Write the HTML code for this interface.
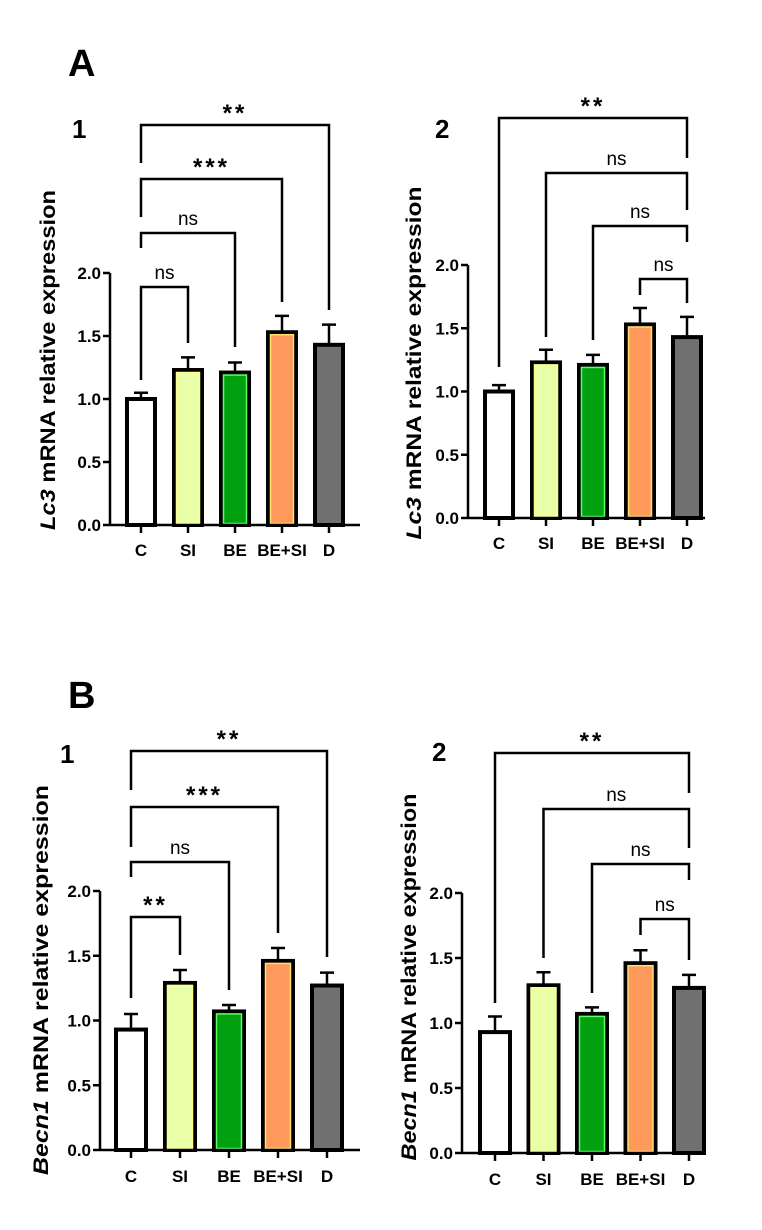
<!DOCTYPE html>
<html><head><meta charset="utf-8">
<style>
html,body{margin:0;padding:0;background:#fff;}
svg{display:block;font-family:"Liberation Sans",Arial,sans-serif;}
</style></head>
<body>
<svg id="fig" width="762" height="1230" viewBox="0 0 762 1230">
<text x="68" y="76" font-size="38" font-weight="bold">A</text>
<text x="68" y="708" font-size="38" font-weight="bold">B</text>
</svg>
<script>
const categories = ["C","SI","BE","BE+SI","D"];
const yTicks = [0, 0.5, 1.0, 1.5, 2.0];
const yTickLabels = ["0.0","0.5","1.0","1.5","2.0"];
const lc3Means = [1.00, 1.23, 1.21, 1.53, 1.43];
const lc3Errors = [0.05, 0.10, 0.08, 0.13, 0.16];
const becn1Means = [0.93, 1.29, 1.07, 1.46, 1.27];
const becn1Errors = [0.12, 0.10, 0.05, 0.10, 0.10];
const sigA1 = ["**","***","ns","ns"];
const sigB1 = ["**","***","ns","**"];
const sigAll2 = ["**","ns","ns","ns"];
const fills = ["#ffffff","#e8ffa8","#00a010","#ff9a5c","#707070"];
const inner = [null,"#ffff90","#60ff60","#ffe070",null];

const NS = "http://www.w3.org/2000/svg";
const svg = document.getElementById('fig');
function el(tag, attrs, parent){
  const e = document.createElementNS(NS, tag);
  for (const k in attrs) e.setAttribute(k, attrs[k]);
  (parent||svg).appendChild(e);
  return e;
}

const panels = [
  {id:'a1', ax:110, y0:525, y2:273, x0:141, dx:47, bw:28, xEnd:360, means:lc3Means, errs:lc3Errors, sig:sigA1,
   title:'Lc3', tx:47, ty:360, tl:340, num:'1', nx:72, ny:138, lblY:556,
   br:[{y:125,l:163,r:310,a:0,b:4},{y:179,l:217,r:302,a:0,b:3},{y:233,l:248,r:347,a:0,b:2},{y:287,l:380,r:343,a:0,b:1}]},
  {id:'a2', ax:468, y0:518, y2:265, x0:499, dx:47, bw:28, xEnd:705, means:lc3Means, errs:lc3Errors, sig:sigAll2,
   title:'Lc3', tx:413, ty:363, tl:353, num:'2', nx:435, ny:138, lblY:549,
   br:[{y:118,l:367,r:158,a:0,b:4},{y:173,l:337,r:210,a:1,b:4},{y:226,l:340,r:242,a:2,b:4},{y:279,l:295,r:303,a:3,b:4}]},
  {id:'b1', ax:100, y0:1150, y2:891, x0:131, dx:49, bw:30, xEnd:360, means:becn1Means, errs:becn1Errors, sig:sigB1,
   title:'Becn1', tx:40, ty:980, tl:390, num:'1', nx:60, ny:763, lblY:1182,
   br:[{y:751,l:790,r:957,a:0,b:4},{y:807,l:847,r:933,a:0,b:3},{y:862,l:877,r:990,a:0,b:2},{y:917,l:998,r:955,a:0,b:1}]},
  {id:'b2', ax:462, y0:1153, y2:893, x0:495, dx:48.5, bw:30, xEnd:705, means:becn1Means, errs:becn1Errors, sig:sigAll2,
   title:'Becn1', tx:408, ty:977, tl:367, num:'2', nx:432, ny:761, lblY:1185,
   br:[{y:753,l:1003,r:793,a:0,b:4},{y:809,l:958,r:848,a:1,b:4},{y:864,l:993,r:880,a:2,b:4},{y:919,l:935,r:960,a:3,b:4}]}
];

panels.forEach(p => {
  const g = el('g', {});
  
  
  const yS = v => p.y0 - (p.y0 - p.y2) * v / 2.0;
  const xS = i => p.x0 + p.dx * i;

  const n = el('text', {x:p.nx, y:p.ny, 'font-size':26, 'font-weight':'bold'}, g);
  n.textContent = p.num;
  
  

  const t = el('text', {x:0, y:0, 'font-size':21, 'font-weight':'bold', 'text-anchor':'middle',
    transform:`translate(${p.tx+8},${p.ty}) rotate(-90)`, textLength:p.tl, lengthAdjust:'spacingAndGlyphs'}, g);
  const ti = el('tspan', {'font-style':'italic'}, t); ti.textContent = p.title;
  const tr = el('tspan', {}, t); tr.textContent = ' mRNA relative expression';
  
  

  categories.forEach((c, i) => {
    const x = xS(i), top = yS(p.means[i]), et = yS(p.means[i] + p.errs[i]);
    const eb = el('path', {d:`M${x},${top} V${et} M${x-7},${et} H${x+7}`, stroke:'#000', 'stroke-width':2.5, fill:'none'}, g);
    
    
    const r = el('rect', {x:x-p.bw/2, y:top, width:p.bw, height:p.y0-top, fill:fills[i], stroke:'#000', 'stroke-width':4}, g);
    
    
    if (inner[i]) {
      const ir = el('rect', {x:x-p.bw/2+2.5, y:top+2.5, width:p.bw-5, height:Math.max(0,p.y0-top-4), fill:'none', stroke:inner[i], 'stroke-width':1.5}, g);
      
      
    }
    const tk = el('line', {x1:x, x2:x, y1:p.y0, y2:p.y0+8, stroke:'#000', 'stroke-width':2.5}, g);
    
    
    const lb = el('text', {x:x, y:p.lblY, 'font-size':17, 'font-weight':'bold', 'text-anchor':'middle'}, g);
    lb.textContent = c;
    
    
  });

  const ya = el('line', {x1:p.ax, x2:p.ax, y1:p.y2, y2:p.y0, stroke:'#000', 'stroke-width':2.5}, g);
  
  
  const xa = el('line', {x1:p.ax, x2:p.xEnd, y1:p.y0, y2:p.y0, stroke:'#000', 'stroke-width':2.5}, g);
  
  
  yTicks.forEach((v, k) => {
    const y = yS(v);
    const tk = el('line', {x1:p.ax-7, x2:p.ax, y1:y, y2:y, stroke:'#000', 'stroke-width':2.5}, g);
    
    
    const lb = el('text', {x:p.ax-9, y:y+6, 'font-size':17, 'font-weight':'bold', 'text-anchor':'end'}, g);
    lb.textContent = yTickLabels[k];
    
    
  });

  p.br.forEach((b, k) => {
    const xl = xS(b.a), xr = xS(b.b);
    const path = el('path', {d:`M${xl},${b.l} V${b.y} H${xr} V${b.r}`, stroke:'#000', 'stroke-width':2.5, fill:'none'}, g);
    
    
    const s = p.sig[k];
    const isStar = s.indexOf('*') >= 0;
    const lt = el('text', {x:(xl+xr)/2, y: isStar ? b.y-4 : b.y-8, 'font-size': isStar ? 24 : 19,
      'font-weight': isStar ? 'bold' : 'normal', 'text-anchor':'middle', 'letter-spacing': isStar ? 3 : 0}, g);
    lt.textContent = s;
    
    
  });
});
</script>
</body></html>
